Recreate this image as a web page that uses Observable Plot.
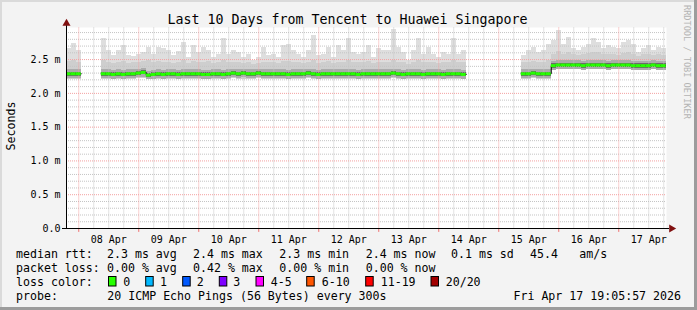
<!DOCTYPE html>
<html><head><meta charset="utf-8">
<script src="https://cdn.jsdelivr.net/npm/d3@7"></script>
<script src="https://cdn.jsdelivr.net/npm/@observablehq/plot@0.6"></script>
<style>
html,body{margin:0;padding:0;background:#f3f3f3}
#wrap{position:relative;width:697px;height:310px;background:#f3f3f3;overflow:hidden}
#wrap > svg{display:block}
#wrap > svg.overlay{position:absolute;left:0;top:0}
</style></head><body><div id="wrap"></div>
<script>
// ---------- data ----------
const title = "Last 10 Days from Tencent to Huawei Singapore";
const yLabel = "Seconds";
const watermark = "RRDTOOL / TOBI OETIKER";
const startTime = "2026-04-07T19:05:57Z";
const endTime = "2026-04-17T19:05:57Z";
const bucketOrigin = "2026-04-07T19:00:00Z";
const bucketHours = 2;

// median rtt (ms) per 2-hour bucket, null = no data
const medianRtt = [
  2.29,2.29,2.29, null,null,null,null,
  2.29,2.29,2.28,2.29,2.28,2.29,2.29,2.30,2.31,2.27,2.28,2.29,2.28,2.29,2.29,2.28,2.29,2.29,2.29,2.29,2.28,2.28,2.29,2.29,2.28,2.29,2.30,2.29,2.30,2.29,2.29,2.30,2.29,
  2.29,2.29,2.29,2.29,2.28,2.29,2.29,2.29,2.30,2.29,2.28,2.29,2.29,2.29,2.29,2.29,2.29,2.29,2.28,2.29,2.29,2.29,2.29,2.29,2.29,2.30,2.29,2.28,2.29,2.29,2.29,2.28,2.29,2.29,2.29,2.28,2.29,2.29,2.29,2.28,
  null,null,null,null,null,null,null,null,null,null,null,
  2.29,2.29,2.30,2.29,2.29,2.29,
  2.41,2.42,2.42,2.42,2.42,2.42,2.41,2.42,2.42,2.42,2.42,2.41,2.42,2.42,2.42,2.42,2.41,2.41,2.41,2.41,2.42,2.41,2.41
];
// highest ping (top of light smoke)
const maxRtt = [
  2.66,2.74,2.63, null,null,null,null,
  2.81,2.63,2.56,2.63,2.71,2.56,2.55,2.58,2.60,2.68,2.58,2.68,2.66,2.63,2.56,2.62,2.76,2.53,2.71,2.61,2.68,2.63,2.53,2.58,2.81,2.58,2.63,2.61,2.53,2.58,2.48,2.53,2.68,
  2.56,2.58,2.53,2.71,2.73,2.63,2.58,2.53,2.63,2.86,2.56,2.58,2.68,2.53,2.71,2.63,2.81,2.61,2.58,2.61,2.71,2.53,2.66,2.63,2.63,2.95,2.68,2.61,2.48,2.63,2.81,2.58,2.68,2.58,2.53,2.61,2.58,2.81,2.58,2.63,
  null,null,null,null,null,null,null,null,null,null,null,
  2.56,2.63,2.68,2.61,2.63,2.73,
  2.78,2.93,2.73,2.83,2.66,2.63,2.68,2.73,2.81,2.76,2.66,2.71,2.68,2.66,2.76,2.78,2.73,2.61,2.66,2.71,2.63,2.68,2.66
];
// upper edge of the dense smoke
const upperRtt = [
  2.47,2.48,2.45, null,null,null,null,
  2.48,2.45,2.44,2.46,2.47,2.44,2.45,2.46,2.47,2.48,2.45,2.47,2.46,2.45,2.44,2.46,2.48,2.44,2.47,2.45,2.46,2.47,2.44,2.45,2.48,2.45,2.46,2.45,2.44,2.45,2.43,2.44,2.46,
  2.45,2.46,2.44,2.47,2.47,2.45,2.45,2.44,2.46,2.49,2.44,2.45,2.47,2.44,2.46,2.45,2.48,2.46,2.45,2.46,2.47,2.44,2.46,2.45,2.45,2.49,2.46,2.45,2.43,2.45,2.48,2.45,2.46,2.45,2.44,2.45,2.45,2.48,2.45,2.46,
  null,null,null,null,null,null,null,null,null,null,null,
  2.45,2.46,2.47,2.45,2.46,2.48,
  2.58,2.62,2.58,2.60,2.57,2.56,2.58,2.59,2.61,2.60,2.57,2.58,2.57,2.56,2.59,2.60,2.58,2.55,2.57,2.58,2.56,2.57,2.56
];
// lowest ping (bottom of smoke)
const minRtt = [
  2.21,2.21,2.21, null,null,null,null,
  2.21,2.21,2.20,2.21,2.21,2.21,2.21,2.22,2.22,2.20,2.21,2.21,2.21,2.21,2.21,2.20,2.21,2.21,2.21,2.21,2.21,2.20,2.21,2.21,2.21,2.21,2.22,2.21,2.21,2.21,2.21,2.22,2.21,
  2.21,2.21,2.21,2.21,2.20,2.21,2.21,2.21,2.22,2.21,2.20,2.21,2.21,2.21,2.21,2.21,2.21,2.21,2.20,2.21,2.21,2.21,2.21,2.21,2.21,2.22,2.21,2.20,2.21,2.21,2.21,2.20,2.21,2.21,2.21,2.20,2.21,2.21,2.21,2.20,
  null,null,null,null,null,null,null,null,null,null,null,
  2.21,2.21,2.22,2.21,2.21,2.21,
  2.34,2.35,2.35,2.35,2.35,2.35,2.34,2.35,2.35,2.35,2.35,2.34,2.35,2.35,2.35,2.35,2.34,2.34,2.34,2.34,2.35,2.34,2.34
];

const yTicks = [0, 0.5, 1.0, 1.5, 2.0, 2.5];
const dayTicks = ["2026-04-08T12:00Z","2026-04-09T12:00Z","2026-04-10T12:00Z","2026-04-11T12:00Z","2026-04-12T12:00Z",
                  "2026-04-13T12:00Z","2026-04-14T12:00Z","2026-04-15T12:00Z","2026-04-16T12:00Z","2026-04-17T12:00Z"];
const dayLabels = ["08 Apr","09 Apr","10 Apr","11 Apr","12 Apr","13 Apr","14 Apr","15 Apr","16 Apr","17 Apr"];

const rttHead = "median rtt:";
const rttStats = ["2.3 ms avg","2.4 ms max","2.3 ms min","2.4 ms now","0.1 ms sd","45.4","am/s"];
const lossHead = "packet loss:";
const lossStats = ["0.00 % avg","0.42 % max","0.00 % min","0.00 % now"];
const colorHead = "loss color:";
const lossLabels = ["0","1","2","3","4-5","6-10","11-19","20/20"];
const lossColors = ["#26ff00","#00b8ff","#0059ff","#7e00ff","#ff00ff","#ff5500","#ff0000","#a10000"];
const probeHead = "probe:";
const probeText = "20 ICMP Echo Pings (56 Bytes) every 300s";
const stampText = "Fri Apr 17 19:05:57 2026";

// ---------- build ----------
const FONT = '"DejaVu Sans Mono", monospace';
const t0 = new Date(startTime), tEnd = new Date(endTime);
const origin = new Date(bucketOrigin);
const all = medianRtt.map((m, i) => ({
  t1: d3.utcHour.offset(origin, i * bucketHours),
  t2: d3.utcHour.offset(origin, (i + 1) * bucketHours),
  med: m, max: maxRtt[i], hi: upperRtt[i], lo: minRtt[i]
}));
const rows = all.filter(d => d.med != null);
const steps = [];
all.forEach(d => { steps.push({t: d.t1, v: d.med}); steps.push({t: d.t2, v: d.med}); if (d.med == null) steps.push({t: d.t2, v: null}); });

const yTop = 2.975;
const minorY = d3.range(1, 30).filter(k => k % 5 !== 0).map(k => k / 10);
const majorY = yTicks.filter(v => v > 0);
const days = d3.utcDay.range(t0, tEnd);
const sixH = d3.utcHour.every(6).range(t0, tEnd).filter(d => d.getUTCHours() !== 0);
const tickDates = dayTicks.map(s => new Date(s));

const chart = Plot.plot({
  width: 697, height: 246,
  marginLeft: 66, marginRight: 31, marginTop: 27, marginBottom: 18,
  style: {background: "transparent", fontFamily: FONT, fontSize: "10px", color: "#000"},
  x: {type: "utc", domain: [t0, tEnd]},
  y: {domain: [0, yTop]},
  marks: [
    Plot.frame({fill: "#ffffff", stroke: null}),
    Plot.rectY(rows, {x1: "t1", x2: "t2", y1: "lo", y2: "max", fill: "#dedede", clip: true, shapeRendering: "crispEdges"}),
    Plot.rectY(rows, {x1: "t1", x2: "t2", y1: "lo", y2: "hi", fill: "#cecece", clip: true, shapeRendering: "crispEdges"}),
    Plot.rectY(rows, {x1: "t1", x2: "t2", y1: d => d.med - 0.07, y2: d => d.med + 0.06, fill: "#ababab", clip: true, shapeRendering: "crispEdges"}),
    Plot.rectY(rows, {x1: "t1", x2: "t2", y1: d => d.med - 0.035, y2: d => d.med + 0.025, fill: "#6a6a6a", clip: true, shapeRendering: "crispEdges"}),
    Plot.ruleY(minorY, {stroke: "#c4c4c4", strokeDasharray: "1,1"}),
    Plot.link(sixH, {x1: d => d, x2: d => d, y1: 0, y2: yTop, stroke: "#c4c4c4", strokeDasharray: "1,1", strokeWidth: 1}),
    Plot.ruleY(majorY, {stroke: "#f3a0a0", strokeDasharray: "1,1"}),
    Plot.link(days, {x1: d => d, x2: d => d, y1: 0, y2: yTop, stroke: "#f3a0a0", strokeDasharray: "1,1", strokeWidth: 1}),
    Plot.line(steps, {x: "t", y: "v", stroke: "#000", strokeWidth: 1, clip: true}),
    Plot.ruleY(rows, {y: "med", x1: "t1", x2: "t2", stroke: "#26ff00", strokeWidth: 3, clip: true}),
    Plot.link(days, {x1: d => d, x2: d => d, y1: 0, y2: -0.05, stroke: "#f07070", strokeWidth: 1}),
    Plot.ruleY([0], {stroke: "#000", insetLeft: -4, insetRight: -3}),
    Plot.ruleX([t0], {stroke: "#000", insetTop: -2}),
    Plot.dot([0], {frameAnchor: "top-left", symbol: "triangle", r: 3, fill: "#801010", stroke: null, dy: -4}),
    Plot.dot([0], {frameAnchor: "bottom-right", symbol: "triangle", r: 3, rotate: 90, fill: "#801010", stroke: null, dx: 5}),
    Plot.axisY(yTicks, {tickSize: 0, tickPadding: 6, label: null, fontSize: 10, fill: "#000",
      tickFormat: v => v === 0 ? "0.0" : v.toFixed(1) + " m"}),
    Plot.axisX(tickDates, {tickSize: 0, tickPadding: 7, label: null, fontSize: 10, fill: "#000",
      tickFormat: d => dayLabels[tickDates.findIndex(t => +t === +d)]})
  ]
});
const wrap = document.getElementById("wrap");
wrap.appendChild(chart);

// ---------- overlay text ----------
const ov = d3.select(wrap).append("svg").attr("class", "overlay").attr("width", 697).attr("height", 310)
  .style("font-family", FONT).style("pointer-events", "none");
ov.append("path").attr("d", "M1,309 L1,1 L696,1").attr("fill", "none").attr("stroke", "#dadada").attr("stroke-width", 2);
ov.append("path").attr("d", "M0,308.5 L695.5,308.5 L695.5,0").attr("fill", "none").attr("stroke", "#9c9c9c").attr("stroke-width", 3);

ov.append("text").attr("x", 347.5).attr("y", 23.5).attr("text-anchor", "middle").attr("font-size", 13.3).attr("fill", "#000").text(title);
ov.append("text").attr("transform", "translate(14.5,126) rotate(-90)").attr("text-anchor", "middle").attr("font-size", 11.6).attr("fill", "#000").text(yLabel);
ov.append("text").attr("transform", "translate(684,5) rotate(90)").attr("text-anchor", "start").attr("font-size", 8.6).attr("fill", "#b4b4b4").text(watermark);

const fs = 11.6;
function put(x, y, s, anchor) {
  ov.append("text").attr("x", x).attr("y", y).attr("font-size", fs).attr("fill", "#000")
    .attr("text-anchor", anchor || "start").style("white-space", "pre").text(s);
}
const rowY = [258, 272, 286, 300];
const colX = [107, 193, 279.3, 365.7, 451, 530, 579.3];
put(16, rowY[0], rttHead);
rttStats.forEach((s, i) => put(colX[i], rowY[0], s));
put(16, rowY[1], lossHead);
lossStats.forEach((s, i) => put(colX[i], rowY[1], s));
put(16, rowY[2], colorHead);
const boxX = [108.5, 145.7, 182.7, 219.3, 256, 306.7, 365.7, 431];
const labX = [123.3, 160, 196.7, 233.3, 270.7, 321.7, 380.7, 445.7];
lossLabels.forEach((s, i) => {
  ov.append("rect").attr("x", boxX[i]).attr("y", 276.5).attr("width", 7.5).attr("height", 9.5)
    .attr("fill", lossColors[i]).attr("stroke", "#000").attr("stroke-width", 1);
  put(labX[i], rowY[2], s);
});
put(16, rowY[3], probeHead);
put(107.3, rowY[3], probeText);
put(681, rowY[3], stampText, "end");
</script></body></html>
